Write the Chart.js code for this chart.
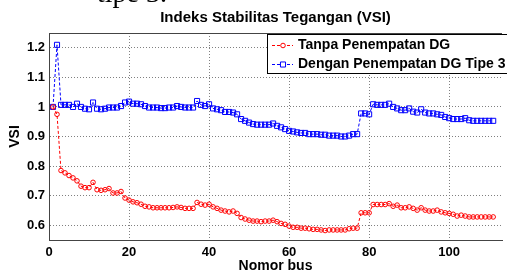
<!DOCTYPE html>
<html>
<head>
<meta charset="utf-8">
<title>Indeks Stabilitas Tegangan (VSI)</title>
<script src="https://cdn.jsdelivr.net/npm/chart.js@4.4.0/dist/chart.umd.min.js"></script>
<style>
    html, body { margin: 0; padding: 0; background: #fff; overflow: hidden; }
    #wrap { position: relative; width: 507px; height: 273px; overflow: hidden; }
    #chart { display: block; }
    #cut { position: absolute; left: 97px; top: -21px; font: 28px "Liberation Serif", "Times New Roman", serif; line-height: 28px; color: #000; white-space: nowrap; }
</style>
</head>
<body>
<div id="wrap">
    <canvas id="chart" width="507" height="273"></canvas>
    <div id="cut">tipe 3.</div>
</div>
<script>
// bus numbers 1..111 (x categories)
const busNumbers = Array.from({ length: 111 }, (_, i) => i + 1);

const vsiTanpaDG = [
    1.000, 0.975, 0.785, 0.777, 0.768, 0.760, 0.750, 0.732, 0.727, 0.727,
    0.745, 0.720, 0.718, 0.720, 0.724, 0.709, 0.709, 0.714, 0.692, 0.685,
    0.679, 0.676, 0.671, 0.664, 0.662, 0.659, 0.659, 0.659, 0.659, 0.659,
    0.660, 0.662, 0.660, 0.657, 0.657, 0.657, 0.677, 0.671, 0.668, 0.671,
    0.662, 0.657, 0.651, 0.648, 0.645, 0.648, 0.640, 0.626, 0.621, 0.617,
    0.614, 0.614, 0.612, 0.614, 0.614, 0.617, 0.612, 0.606, 0.603, 0.597,
    0.593, 0.593, 0.590, 0.590, 0.588, 0.586, 0.586, 0.584, 0.582, 0.584,
    0.584, 0.584, 0.584, 0.584, 0.588, 0.590, 0.590, 0.642, 0.642, 0.642,
    0.670, 0.670, 0.670, 0.670, 0.673, 0.664, 0.668, 0.659, 0.659, 0.662,
    0.657, 0.651, 0.659, 0.651, 0.648, 0.648, 0.651, 0.645, 0.642, 0.640,
    0.637, 0.631, 0.634, 0.631, 0.628, 0.628, 0.628, 0.628, 0.628, 0.628,
    0.628
];

const vsiDGTipe3 = [
    1.000, 1.210, 1.007, 1.007, 1.007, 1.000, 1.011, 1.000, 0.994, 0.992,
    1.015, 0.994, 0.992, 0.994, 0.998, 0.998, 0.998, 1.003, 1.015, 1.018,
    1.011, 1.011, 1.009, 1.003, 0.998, 0.998, 0.998, 0.996, 0.996, 0.998,
    0.998, 1.003, 1.000, 0.998, 0.998, 0.998, 1.020, 1.007, 1.003, 1.009,
    0.995, 0.992, 0.989, 0.983, 0.983, 0.981, 0.975, 0.959, 0.953, 0.947,
    0.942, 0.940, 0.940, 0.940, 0.940, 0.944, 0.936, 0.931, 0.925, 0.919,
    0.917, 0.914, 0.912, 0.912, 0.908, 0.908, 0.908, 0.906, 0.906, 0.903,
    0.903, 0.903, 0.900, 0.900, 0.903, 0.908, 0.908, 0.978, 0.978, 0.975,
    1.009, 1.007, 1.007, 1.007, 1.011, 1.000, 0.995, 0.989, 0.989, 0.995,
    0.984, 0.981, 0.992, 0.981, 0.978, 0.978, 0.975, 0.973, 0.966, 0.962,
    0.959, 0.959, 0.959, 0.962, 0.955, 0.953, 0.953, 0.953, 0.953, 0.953,
    0.953
];

const seriesNames = ['Tanpa Penempatan DG', 'Dengan Penempatan DG Tipe 3'];
const xTicks = [0, 20, 40, 60, 80, 100];
const yTicks = [0.6, 0.7, 0.8, 0.9, 1, 1.1, 1.2];

const FONT = '"Liberation Sans", Arial, sans-serif';
Chart.defaults.font.family = FONT;
Chart.defaults.color = '#000';

const toPoints = (vals) => vals.map((v, i) => ({ x: busNumbers[i], y: v }));

// MATLAB style box top line
const topLine = {
    id: 'topLine',
    afterDraw(chart) {
        const { ctx, chartArea } = chart;
        ctx.save();
        ctx.strokeStyle = '#444';
        ctx.lineWidth = 1;
        ctx.beginPath();
        ctx.moveTo(chartArea.left, chartArea.top + 0.5);
        ctx.lineTo(chartArea.right, chartArea.top + 0.5);
        ctx.stroke();
        ctx.restore();
    }
};

// legend inside the axes, top right
const legendBox = {
    id: 'legendBox',
    afterDraw(chart) {
        const { ctx, chartArea } = chart;
        const left = chartArea.left + 218, top = chartArea.top + 1;
        const w = 260, h = 39;
        ctx.save();
        ctx.fillStyle = '#fff';
        ctx.fillRect(left, top, w, h);
        ctx.strokeStyle = '#000';
        ctx.lineWidth = 1;
        ctx.strokeRect(left + 0.5, top + 0.5, w, h);
        chart.data.datasets.forEach((ds, i) => {
            const y = Math.round(top + 11 + i * 18.5) + 0.5;
            ctx.strokeStyle = ds.borderColor;
            ctx.lineWidth = 1;
            ctx.setLineDash(ds.borderDash);
            ctx.beginPath();
            ctx.moveTo(left + 5, y);
            ctx.lineTo(left + 26, y);
            ctx.stroke();
            ctx.setLineDash([]);
            ctx.fillStyle = '#fff';
            Chart.helpers.drawPoint(ctx, { pointStyle: ds.pointStyle, radius: ds.pointRadius, borderWidth: 1, rotation: 0 }, left + 16, y);
            ctx.fillStyle = '#000';
            ctx.font = 'bold 14px ' + FONT;
            ctx.textBaseline = 'middle';
            ctx.fillText(ds.label, left + 31, y);
        });
        ctx.restore();
    }
};

new Chart(document.getElementById('chart'), {
    type: 'line',
    data: {
        datasets: [
            {
                label: seriesNames[0],
                data: toPoints(vsiTanpaDG),
                borderColor: '#ff0000',
                backgroundColor: 'rgba(255,255,255,0)',
                borderWidth: 1,
                borderDash: [3, 2],
                pointStyle: 'circle',
                pointRadius: 2.3,
                pointBorderWidth: 1,
                pointBackgroundColor: 'rgba(255,255,255,0)',
                tension: 0
            },
            {
                label: seriesNames[1],
                data: toPoints(vsiDGTipe3),
                borderColor: '#0000ff',
                backgroundColor: 'rgba(255,255,255,0)',
                borderWidth: 1,
                borderDash: [3, 2],
                pointStyle: 'rect',
                pointRadius: 3.6,
                pointBorderWidth: 1,
                pointBackgroundColor: 'rgba(255,255,255,0)',
                tension: 0
            }
        ]
    },
    options: {
        responsive: false,
        animation: false,
        events: [],
        layout: { padding: 0 },
        plugins: {
            legend: { display: false },
            tooltip: { enabled: false },
            title: {
                display: true,
                text: 'Indeks Stabilitas Tegangan (VSI)',
                fullSize: false,
                color: '#000',
                font: { size: 15, weight: 'bold' },
                padding: { top: 9, bottom: 6 }
            }
        },
        scales: {
            x: {
                type: 'linear',
                min: 0,
                max: 113.2,
                afterBuildTicks: (s) => { s.ticks = xTicks.map(v => ({ value: v })); },
                afterFit: (s) => { s.height = 33; },
                grid: { color: '#808080', drawTicks: false },
                border: { color: '#444', dash: [1, 2] },
                ticks: { padding: 5, color: '#000', font: { size: 13, weight: 'bold' } },
                title: { display: true, text: 'Nomor bus', color: '#000', font: { size: 14, weight: 'bold' }, padding: { top: 0, bottom: -2 } }
            },
            y: {
                min: 0.55,
                max: 1.25,
                afterBuildTicks: (s) => { s.ticks = yTicks.map(v => ({ value: v })); },
                afterFit: (s) => { s.width = 49; },
                grid: { color: '#808080', drawTicks: false },
                border: { color: '#444', dash: [1, 2] },
                ticks: { padding: 4, color: '#000', font: { size: 13, weight: 'bold' }, callback: (v) => String(+v.toFixed(1)) },
                title: { display: true, text: 'VSI', color: '#000', font: { size: 14, weight: 'bold' }, padding: { top: 7, bottom: 0 } }
            }
        }
    },
    plugins: [topLine, legendBox]
});
</script>
</body>
</html>
